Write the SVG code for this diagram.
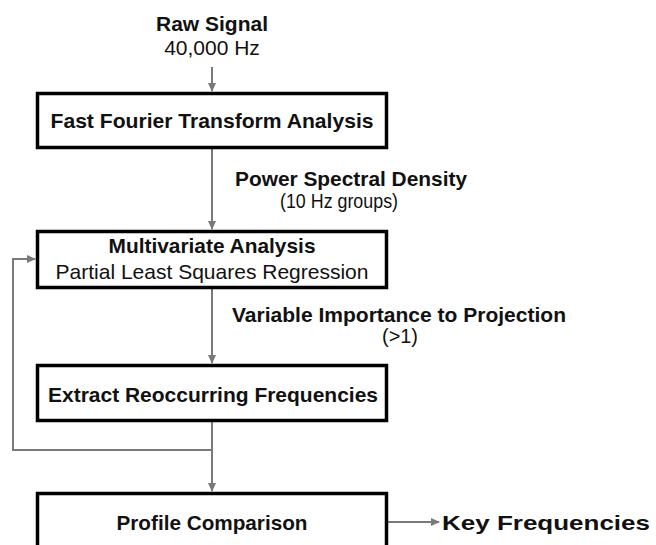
<svg xmlns="http://www.w3.org/2000/svg" width="656" height="545" viewBox="0 0 656 545">
<style>
.box{fill:#fff;stroke:#000;stroke-width:3.5}
.b{font-family:"Liberation Sans",Arial,sans-serif;font-weight:bold;font-size:21px;fill:#111}
.r{font-family:"Liberation Sans",Arial,sans-serif;font-size:21px;fill:#111}
.c{text-anchor:middle}
.ln{fill:none;stroke:#7a7a7a;stroke-width:2}
</style>
<defs>
<marker id="ah" markerUnits="userSpaceOnUse" markerWidth="9" markerHeight="8" refX="8" refY="4" orient="auto">
<path d="M0,0 L9,4 L0,8 z" fill="#7a7a7a"/>
</marker>
</defs>
<rect width="656" height="545" fill="#fff"/>
<g id="connectors">
<line class="ln" x1="212" y1="67" x2="212" y2="91" marker-end="url(#ah)"/>
<line class="ln" x1="212" y1="149" x2="212" y2="229" marker-end="url(#ah)"/>
<line class="ln" x1="212" y1="289" x2="212" y2="363" marker-end="url(#ah)"/>
<line class="ln" x1="212" y1="422" x2="212" y2="491" marker-end="url(#ah)"/>
<polyline class="ln" points="212,450 13,450 13,259 35,259" marker-end="url(#ah)"/>
<line class="ln" x1="388" y1="522" x2="439" y2="522" marker-end="url(#ah)"/>
<text class="b" x="235" y="186" textLength="232" lengthAdjust="spacingAndGlyphs">Power Spectral Density</text>
<text class="r" x="280" y="208" font-size="19" textLength="118" lengthAdjust="spacingAndGlyphs">(10 Hz groups)</text>
<text class="b" x="232" y="322" textLength="334" lengthAdjust="spacingAndGlyphs">Variable Importance to Projection</text>
<text class="r" x="382" y="343" font-size="20" textLength="36" lengthAdjust="spacingAndGlyphs">(&gt;1)</text>
</g>
<g id="raw">
<text class="b c" x="212" y="31" font-size="20">Raw Signal</text>
<text class="r c" x="212" y="55" font-size="20">40,000 Hz</text>
</g>
<g id="fft">
<rect class="box" x="37.5" y="93.5" width="349" height="54"/>
<text class="b c" x="212" y="128" textLength="323" lengthAdjust="spacingAndGlyphs">Fast Fourier Transform Analysis</text>
</g>
<g id="multivariate">
<rect class="box" x="37.5" y="231.5" width="349" height="56"/>
<text class="b c" x="212" y="253" textLength="207" lengthAdjust="spacingAndGlyphs">Multivariate Analysis</text>
<text class="r c" x="212" y="279" textLength="313" lengthAdjust="spacingAndGlyphs">Partial Least Squares Regression</text>
</g>
<g id="extract">
<rect class="box" x="37.5" y="365.5" width="349" height="55"/>
<text class="b c" x="213" y="402" textLength="330" lengthAdjust="spacingAndGlyphs">Extract Reoccurring Frequencies</text>
</g>
<g id="profile">
<rect class="box" x="37.5" y="493.5" width="349" height="80"/>
<text class="b c" x="212" y="530" textLength="191" lengthAdjust="spacingAndGlyphs">Profile Comparison</text>
</g>
<g id="key">
<text class="b" x="442" y="530" font-size="27" textLength="208" lengthAdjust="spacingAndGlyphs">Key Frequencies</text>
</g>
</svg>
